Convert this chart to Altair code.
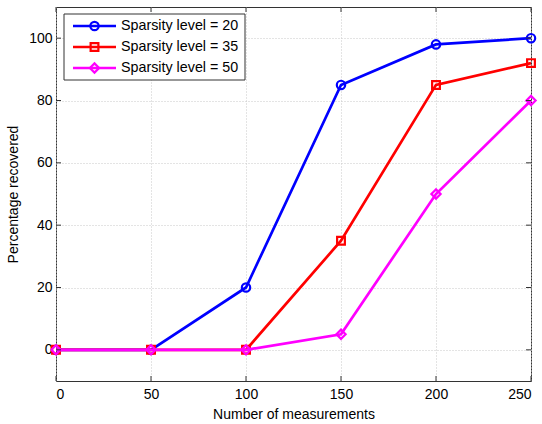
import altair as alt
import pandas as pd

x_vals = [0, 50, 100, 150, 200, 250]
s20 = [0, 0, 20, 85, 98, 100]
s35 = [0, 0, 0, 35, 85, 92]
s50 = [0, 0, 0, 5, 50, 80]
series_names = ["Sparsity level = 20", "Sparsity level = 35", "Sparsity level = 50"]
series_vals = [s20, s35, s50]
colors = ["#0000ff", "#ff0000", "#ff00ff"]
shapes = ["circle", "square", "diamond"]
sizes = [70, 60, 85]
x_ticks = [0, 50, 100, 150, 200, 250]
y_ticks = [0, 20, 40, 60, 80, 100]

W, H = 475, 374
FONT = "Liberation Sans"

xscale = alt.Scale(domain=[0, 250], nice=False, zero=False)
yscale = alt.Scale(domain=[-10, 110], nice=False, zero=False)

layers = []
for i, (name, vals) in enumerate(zip(series_names, series_vals)):
    df = pd.DataFrame({"x": x_vals, "y": vals, "series": name})
    base = alt.Chart(df)
    enc = dict(
        x=alt.X("x:Q", scale=xscale,
                axis=alt.Axis(values=x_ticks, ticks=False, domain=False, grid=True,
                              gridDash=[1, 2], gridColor="#c8c8c8", gridWidth=1,
                              labelFont=FONT, labelFontSize=14, labelColor="#000",
                              labelPadding=6, title="Number of measurements",
                              titleFont=FONT, titleFontSize=14, titleFontWeight="normal",
                              titleColor="#000", titlePadding=6)),
        y=alt.Y("y:Q", scale=yscale,
                axis=alt.Axis(values=y_ticks, ticks=False, domain=False, grid=True,
                              gridDash=[1, 2], gridColor="#c8c8c8", gridWidth=1,
                              labelFont=FONT, labelFontSize=14, labelColor="#000",
                              labelPadding=4, title="Percentage recovered",
                              titleFont=FONT, titleFontSize=14, titleFontWeight="normal",
                              titleColor="#000", titlePadding=8)),
    )
    line = base.mark_line(color=colors[i], strokeWidth=2.7, clip=False).encode(**enc)
    pts = base.mark_point(color=colors[i], shape=shapes[i], size=sizes[i], strokeWidth=2.2,
                          filled=False, clip=False, opacity=1).encode(**enc)
    layers += [line, pts]

# inward tick marks on all four sides
xt = pd.DataFrame({"x": x_ticks})
yt = pd.DataFrame({"y": y_ticks})
tick_color = "#333333"
layers.append(alt.Chart(xt).mark_rule(color=tick_color, strokeWidth=1).encode(
    x=alt.X("x:Q", scale=xscale), y=alt.value(H), y2=alt.value(H - 5)))
layers.append(alt.Chart(xt).mark_rule(color=tick_color, strokeWidth=1).encode(
    x=alt.X("x:Q", scale=xscale), y=alt.value(0), y2=alt.value(5)))
layers.append(alt.Chart(yt).mark_rule(color=tick_color, strokeWidth=1).encode(
    y=alt.Y("y:Q", scale=yscale), x=alt.value(0), x2=alt.value(5)))
layers.append(alt.Chart(yt).mark_rule(color=tick_color, strokeWidth=1).encode(
    y=alt.Y("y:Q", scale=yscale), x=alt.value(W), x2=alt.value(W - 5)))

# legend box
leg_df = pd.DataFrame({"a": [0]})
layers.append(alt.Chart(leg_df).mark_rect(fill="white", stroke="#333333", strokeWidth=1).encode(
    x=alt.value(8), x2=alt.value(189), y=alt.value(7), y2=alt.value(73)))
row_y = [19, 40, 61]
for i, name in enumerate(series_names):
    d = pd.DataFrame({"label": [name]})
    c = alt.Chart(d)
    layers.append(c.mark_rule(color=colors[i], strokeWidth=2.7).encode(
        x=alt.value(17), x2=alt.value(60), y=alt.value(row_y[i])))
    layers.append(c.mark_point(color=colors[i], shape=shapes[i], size=sizes[i], strokeWidth=2.2,
                               filled=False, opacity=1).encode(
        x=alt.value(38.5), y=alt.value(row_y[i])))
    layers.append(c.mark_text(align="left", baseline="middle", font=FONT, fontSize=14.3,
                              color="#000").encode(
        x=alt.value(65), y=alt.value(row_y[i]), text="label:N"))

chart = alt.layer(*layers).properties(
    width=W, height=H,
    padding={"left": 56, "top": 7, "right": 11, "bottom": 43},
    autosize=alt.AutoSizeParams(type="none"),
    background="white",
).configure_view(stroke="#333333", strokeWidth=1)

chart.save("out.html", embed_options={"renderer": "svg", "actions": False})
